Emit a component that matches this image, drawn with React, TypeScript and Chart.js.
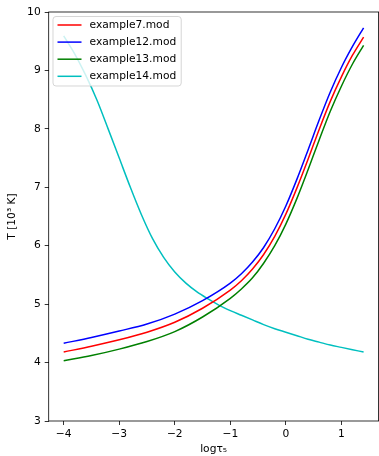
import React, { useEffect, useRef } from 'react';
import { Chart, registerables } from 'chart.js';

Chart.register(...registerables);

const seriesLabels = ['example7.mod', 'example12.mod', 'example13.mod', 'example14.mod'];
const seriesColors = ['#ff0000', '#0000ff', '#008000', '#00bfbf'];

const xTicks = [-4, -3, -2, -1, 0, 1];
const yTicks = [3, 4, 5, 6, 7, 8, 9, 10];

const logTau = [-4, -3.5, -3, -2.5, -2, -1.5, -1, -0.8, -0.6, -0.4, -0.2, 0, 0.2, 0.4, 0.6, 0.8, 1.0, 1.2, 1.4];
const tExample7 = [4.18, 4.28, 4.39, 4.52, 4.69, 4.93, 5.24, 5.40, 5.60, 5.85, 6.16, 6.54, 6.99, 7.48, 7.99, 8.47, 8.89, 9.26, 9.57];
const tExample12 = [4.33, 4.43, 4.54, 4.66, 4.83, 5.06, 5.36, 5.52, 5.72, 5.97, 6.29, 6.68, 7.14, 7.64, 8.15, 8.63, 9.05, 9.41, 9.73];
const tExample13 = [4.03, 4.12, 4.23, 4.36, 4.53, 4.78, 5.10, 5.26, 5.45, 5.70, 6.00, 6.37, 6.81, 7.30, 7.81, 8.30, 8.73, 9.11, 9.43];

const logTau14 = [-4, -3.8, -3.6, -3.4, -3.2, -3.0, -2.8, -2.6, -2.4, -2.2, -2.0, -1.8, -1.6, -1.4, -1.2, -1.0, -0.8, -0.6, -0.4, -0.2, 0, 0.2, 0.4, 0.6, 0.8, 1.0, 1.2, 1.4];
const tExample14 = [9.59, 9.28, 8.91, 8.49, 8.00, 7.50, 7.00, 6.53, 6.12, 5.80, 5.55, 5.36, 5.21, 5.09, 4.98, 4.89, 4.81, 4.73, 4.65, 4.58, 4.52, 4.46, 4.40, 4.35, 4.30, 4.26, 4.22, 4.18];

const FONT = '"DejaVu Sans", sans-serif';
const FS = 10.7;

const pts = (xs: number[], ys: number[]) => xs.map((x, i) => ({ x, y: ys[i] }));
const fmt = (v: number | string) => String(v).replace('-', '\u2212');

const framePlugin = {
  id: 'frameAndLegend',
  afterDatasetsDraw(chart: any) {
    const { ctx, chartArea: a } = chart;
    ctx.save();
    // spines
    ctx.strokeStyle = '#000';
    ctx.lineWidth = 0.8;
    ctx.strokeRect(a.left, a.top, a.right - a.left, a.bottom - a.top);

    // legend
    ctx.font = `${FS}px ${FONT}`;
    const labels = chart.data.datasets.map((d: any) => d.label as string);
    const colors = chart.data.datasets.map((d: any) => d.borderColor as string);
    const maxW = Math.max(...labels.map((l: string) => ctx.measureText(l).width));
    const bx = a.left + 4.3;
    const by = a.top + 4.5;
    const lineX0 = bx + 4.5;
    const lineX1 = lineX0 + 24;
    const textX = lineX1 + 8;
    const bw = textX + maxW + 5 - bx;
    const rowH = 17.1;
    const bh = 69.5;
    const r = 3;
    ctx.beginPath();
    ctx.moveTo(bx + r, by);
    ctx.lineTo(bx + bw - r, by);
    ctx.arcTo(bx + bw, by, bx + bw, by + r, r);
    ctx.lineTo(bx + bw, by + bh - r);
    ctx.arcTo(bx + bw, by + bh, bx + bw - r, by + bh, r);
    ctx.lineTo(bx + r, by + bh);
    ctx.arcTo(bx, by + bh, bx, by + bh - r, r);
    ctx.lineTo(bx, by + r);
    ctx.arcTo(bx, by, bx + r, by, r);
    ctx.closePath();
    ctx.fillStyle = 'rgba(255,255,255,0.8)';
    ctx.fill();
    ctx.strokeStyle = 'rgba(204,204,204,0.8)';
    ctx.lineWidth = 1;
    ctx.stroke();

    labels.forEach((l: string, i: number) => {
      const y = by + 8.5 + i * rowH;
      ctx.beginPath();
      ctx.moveTo(lineX0, y);
      ctx.lineTo(lineX1, y);
      ctx.strokeStyle = colors[i];
      ctx.lineWidth = 1.5;
      ctx.stroke();
      ctx.fillStyle = '#000';
      ctx.textAlign = 'left';
      ctx.textBaseline = 'middle';
      ctx.fillText(l, textX, y);
    });
    ctx.restore();
  },
};

export default function App() {
  const ref = useRef<HTMLCanvasElement | null>(null);

  useEffect(() => {
    if (!ref.current) return;
    Chart.defaults.font.family = FONT;
    Chart.defaults.font.size = FS;
    Chart.defaults.color = '#000';

    const ds = (i: number, data: { x: number; y: number }[]) => ({
      label: seriesLabels[i],
      data,
      borderColor: seriesColors[i],
      backgroundColor: seriesColors[i],
      borderWidth: 1.5,
      pointRadius: 0,
      fill: false,
      cubicInterpolationMode: 'monotone' as const,
    });

    const chart = new Chart(ref.current, {
      type: 'line',
      data: {
        datasets: [
          ds(0, pts(logTau, tExample7)),
          ds(1, pts(logTau, tExample12)),
          ds(2, pts(logTau, tExample13)),
          ds(3, pts(logTau14, tExample14)),
        ],
      },
      options: {
        responsive: false,
        animation: false,
        layout: { padding: { top: 12, right: 0.4, left: 0, bottom: 0 } },
        plugins: {
          legend: { display: false },
          tooltip: { enabled: false },
        },
        scales: {
          x: {
            type: 'linear',
            min: -4.27,
            max: 1.67,
            afterBuildTicks: (s: any) => {
              s.ticks = xTicks.map((v) => ({ value: v }));
            },
            afterFit: (s: any) => {
              s.height = 35;
            },
            ticks: {
              callback: (v: any) => fmt(v),
              padding: 2.5,
              maxRotation: 0,
              autoSkip: false,
              color: '#000',
              font: { size: FS, family: FONT },
            },
            grid: {
              display: true,
              drawOnChartArea: false,
              drawTicks: true,
              tickLength: 4,
              color: '#000',
              lineWidth: 0.8,
            },
            border: { display: false },
            title: {
              display: true,
              text: 'log\u03c4\u2085',
              font: { size: FS, family: FONT },
              color: '#000',
              padding: { top: 0, bottom: 0 },
            },
          },
          y: {
            type: 'linear',
            min: 3,
            max: 10,
            afterBuildTicks: (s: any) => {
              s.ticks = yTicks.map((v) => ({ value: v }));
            },
            afterFit: (s: any) => {
              s.width = 48.7;
            },
            ticks: {
              callback: (v: any) => fmt(v),
              padding: 4,
              autoSkip: false,
              color: '#000',
              font: { size: FS, family: FONT },
            },
            grid: {
              display: true,
              drawOnChartArea: false,
              drawTicks: true,
              tickLength: 4,
              color: '#000',
              lineWidth: 0.8,
            },
            border: { display: false },
            title: {
              display: true,
              text: 'T [10\u00b3 K]',
              font: { size: FS, family: FONT },
              color: '#000',
              padding: { top: 6, bottom: 0 },
            },
          },
        },
      },
      plugins: [framePlugin],
    });

    return () => chart.destroy();
  }, []);

  return (
    <div style={{ position: 'fixed', left: 0, top: 0, width: 379, height: 456, background: '#fff' }}>
      <canvas ref={ref} width={379} height={456} style={{ display: 'block' }} />
    </div>
  );
}
